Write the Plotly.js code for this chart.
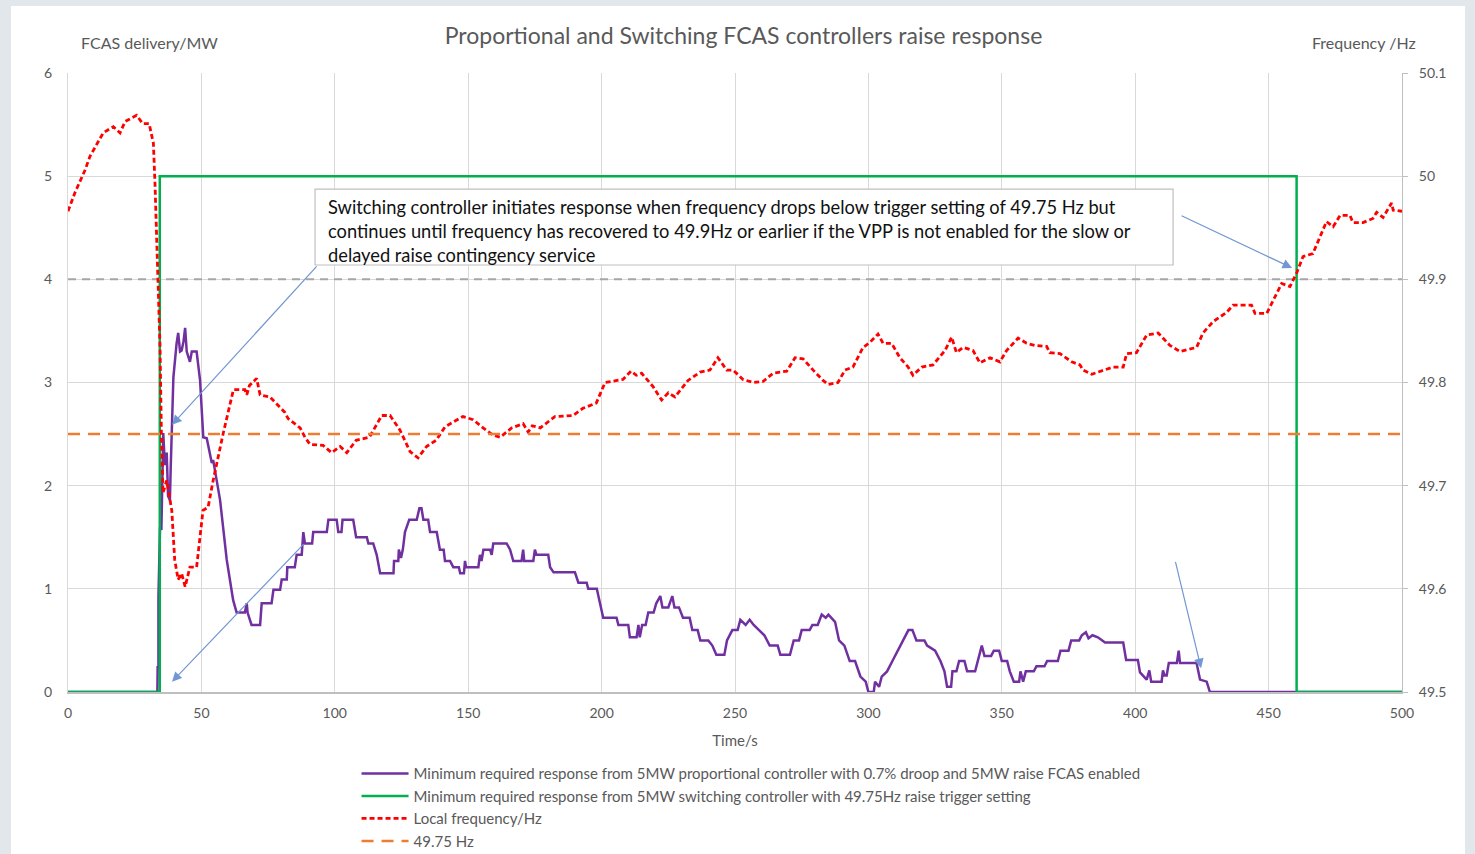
<!DOCTYPE html>
<html><head><meta charset="utf-8">
<script src="https://cdn.plot.ly/plotly-3.0.1.min.js"></script>
<style>
html,body{margin:0;padding:0;background:#e1e7ea;width:1475px;height:854px;overflow:hidden;}
#chart{position:absolute;left:11px;top:6px;width:1454px;height:848px;background:#fff;}
</style></head>
<body><div id="chart"></div>
<script>
// ---- data ----
const freqTime = [0,2.6,6.4,8.2,13.2,17,19.5,21.4,25.7,28,30.4,32,32.6,33.2,33.7,34.5,35,35.6,37,38.9,40,41.3,42.6,43.9,45.7,48.2,50.6,52.5,54.4,55.7,58.2,62,66.3,67,68,70.7,72,75.7,81.3,82.5,87,88.8,90.7,95.6,98.8,102,104.5,108,113,117.6,120.7,124.4,128.2,131.2,134.4,138,141.3,148,151.8,155.6,159.3,162,166.3,170.6,172.5,174,177,182.5,189.3,193,198,201.3,208,211,213,215,219.3,222.5,225,227.5,232.4,236.9,240.6,243.6,246.9,249.3,253,256.8,260.5,264.3,269.4,272.5,275.5,279.3,283,284.9,288.6,291.2,294.2,298,300.6,303.6,305.5,308.7,311.8,314.9,316.7,320,324.2,328.7,331.2,333,335.5,339.2,341.8,345.6,349.3,351.8,356.1,359.3,362.4,366.8,368,371.8,376.2,379.3,380.5,383.7,386.8,391.7,395.5,396.8,400.5,404.3,408.6,413,416.8,423,425.4,429.2,434.3,436.7,443.6,444.9,449.3,451.7,454.9,458,460.5,462.9,466.6,469.9,471.7,474.2,476.8,480.5,481.6,485.4,489.1,490.5,492.9,496.1,496.7,500];
const freqHz = [49.966,49.984,50.006,50.019,50.042,50.048,50.042,50.053,50.059,50.051,50.051,50.032,49.993,49.945,49.89,49.834,49.751,49.693,49.705,49.676,49.628,49.609,49.615,49.602,49.621,49.621,49.676,49.679,49.705,49.722,49.751,49.793,49.793,49.788,49.797,49.804,49.788,49.786,49.771,49.765,49.756,49.747,49.740,49.739,49.732,49.738,49.732,49.744,49.747,49.768,49.768,49.754,49.733,49.727,49.738,49.744,49.757,49.767,49.764,49.756,49.749,49.747,49.756,49.760,49.752,49.758,49.756,49.767,49.768,49.775,49.780,49.800,49.803,49.811,49.807,49.809,49.796,49.783,49.790,49.786,49.802,49.810,49.812,49.824,49.812,49.812,49.803,49.800,49.801,49.809,49.811,49.824,49.823,49.812,49.802,49.798,49.800,49.812,49.815,49.834,49.839,49.847,49.838,49.838,49.824,49.815,49.807,49.815,49.817,49.831,49.844,49.829,49.834,49.831,49.819,49.824,49.820,49.831,49.843,49.838,49.836,49.835,49.829,49.828,49.820,49.817,49.812,49.808,49.811,49.815,49.815,49.828,49.829,49.846,49.848,49.836,49.830,49.834,49.848,49.859,49.868,49.875,49.875,49.867,49.867,49.880,49.896,49.893,49.906,49.922,49.925,49.945,49.956,49.951,49.962,49.962,49.955,49.955,49.959,49.965,49.960,49.974,49.967,49.966];

const propTime = [0,33.5,33.6,33.9,33.9,34.5,35,35.7,36.3,37,37.5,38.2,38.5,39.5,40.7,41.3,42,42.6,43.3,43.9,44.5,45.7,46.4,48.2,49.5,50.7,52,53.9,54.4,57,59.5,61.9,63.2,66.3,67,67.3,68.8,72,72.6,76.3,77,79.5,80.1,82,82.2,85,85.7,87.6,88.2,88.8,91.5,91.9,97,97.6,100.7,101.3,102.5,102.9,106.9,108,112,112.6,114.4,115,115.7,117,122,122.2,123.8,124,124.8,125.5,126.3,127.9,130.7,131.7,132.5,133.2,135,135.7,138.2,139.4,140.8,141.3,143.2,144.4,146.5,147,148.4,148.8,149.2,153.8,154.4,155,155.7,158.2,158.8,159.4,164.4,165.7,166.9,170,170.6,171,174.4,175,175.6,180,180.7,182,190,191.3,194.4,195,198.2,199.4,200.6,205.6,206.3,210,210.6,213.1,213.8,214.3,215.2,216.5,217.5,219.5,220.5,222,222.8,225,226.5,227.3,229,230.5,233,234,236,237,240,241.5,243,246,247,249,251,252,254,255.5,257,259,261,263,266,267,270.6,272,274,275,278,279,281,282.5,284,285,287.5,289,291,293,295,297,299,300,302,302.5,304,305,307,309,311,313,315,316.5,318,321,322,325,327,328.5,329.5,331,331.5,333,334,336,337,340,341,342.5,343.5,346,347,349,350,352,353,354.5,356.5,357,358,359,362,363,366,367,371,372,375,376,379,380,381.5,382.5,384,386,388.7,395.5,396.6,401,401.8,404.3,405.3,406,409.9,410.4,411,411.8,412.6,415.6,416.3,416.8,423,424.3,426.8,428,500];
const propMW = [0,0,0.24,0.24,0.92,1.6,1.57,2.51,2.2,2.32,1.9,1.86,2.18,3.05,3.38,3.48,3.3,3.31,3.4,3.53,3.3,3.2,3.3,3.3,3.02,2.47,2.46,2.22,2.25,1.86,1.28,0.89,0.77,0.77,0.86,0.77,0.65,0.65,0.86,0.86,0.99,0.99,1.09,1.09,1.21,1.21,1.33,1.33,1.55,1.44,1.44,1.55,1.55,1.67,1.67,1.55,1.55,1.67,1.67,1.50,1.50,1.44,1.44,1.38,1.33,1.15,1.15,1.27,1.27,1.38,1.30,1.38,1.55,1.67,1.67,1.78,1.78,1.67,1.67,1.55,1.55,1.38,1.38,1.27,1.27,1.21,1.21,1.15,1.15,1.27,1.21,1.21,1.33,1.27,1.38,1.38,1.33,1.44,1.44,1.38,1.27,1.27,1.38,1.27,1.27,1.38,1.33,1.33,1.21,1.16,1.16,1.06,1.06,1.0,1.0,0.86,0.72,0.72,0.65,0.65,0.53,0.53,0.65,0.53,0.65,0.65,0.77,0.77,0.86,0.93,0.82,0.82,0.93,0.82,0.82,0.72,0.72,0.6,0.6,0.5,0.5,0.45,0.36,0.36,0.5,0.6,0.6,0.7,0.65,0.7,0.65,0.6,0.55,0.45,0.45,0.36,0.36,0.5,0.5,0.6,0.6,0.65,0.65,0.75,0.72,0.75,0.68,0.5,0.45,0.3,0.3,0.15,0.1,0.0,0.0,0.1,0.05,0.15,0.2,0.3,0.4,0.5,0.6,0.6,0.5,0.5,0.45,0.4,0.3,0.2,0.05,0.05,0.2,0.2,0.3,0.3,0.2,0.2,0.3,0.45,0.35,0.35,0.4,0.4,0.3,0.3,0.2,0.1,0.1,0.2,0.1,0.2,0.2,0.25,0.25,0.3,0.3,0.4,0.4,0.5,0.5,0.55,0.58,0.52,0.55,0.53,0.48,0.48,0.31,0.31,0.19,0.12,0.21,0.1,0.1,0.21,0.16,0.16,0.28,0.28,0.4,0.28,0.28,0.12,0.1,0.0,0];

const switchTime = [0,34.4,34.4,460.5,460.5,500];
const switchMW = [0,0,5,5,0,0];

const lineTime = [0,500];
const triggerHz = [49.75,49.75];
const recoveryHz = [49.9,49.9];

const seriesNames = [
  "Minimum required response from 5MW proportional controller with 0.7% droop and 5MW raise FCAS enabled",
  "Minimum required response from 5MW switching controller with 49.75Hz raise trigger setting",
  "Local frequency/Hz",
  "49.75 Hz"
];
const chartTitle = "Proportional and Switching FCAS controllers raise response";
const noteText = "Switching controller initiates response when frequency drops below trigger setting of 49.75 Hz but<br>continues until frequency has recovered to 49.9Hz or earlier if the VPP is not enabled for the slow or<br>delayed raise contingency service";

const FONT = "Lato, 'Open Sans', sans-serif";
const GREY = "#595959";

const traces = [
  {x: lineTime, y: recoveryHz, yaxis: 'y2', mode: 'lines', showlegend: false, hoverinfo: 'skip',
   line: {color: '#a6a6a6', width: 2, dash: '8px,6px'}},
  {x: propTime, y: propMW, mode: 'lines', name: seriesNames[0],
   line: {color: '#7030a0', width: 2.5}},
  {x: switchTime, y: switchMW, mode: 'lines', name: seriesNames[1],
   line: {color: '#00b050', width: 2.5}},
  {x: freqTime, y: freqHz, yaxis: 'y2', mode: 'lines', name: seriesNames[2],
   line: {color: '#ff0000', width: 2.8, dash: '5px,3px'}},
  {x: lineTime, y: triggerHz, yaxis: 'y2', mode: 'lines', name: seriesNames[3],
   line: {color: '#ed7d31', width: 2.5, dash: '12px,8px'}}
];

const arrowColor = '#7397d2';
const layout = {
  width: 1454, height: 848,
  margin: {l: 57, r: 63, t: 67, b: 162, autoexpand: false},
  paper_bgcolor: '#ffffff', plot_bgcolor: '#ffffff',
  font: {family: FONT, color: GREY, size: 14},
  title: {text: chartTitle, font: {family: FONT, size: 23, color: GREY}, x: 0.5038, xanchor: 'center',
          yref: 'container', y: 1 - 30/848, yanchor: 'middle'},
  xaxis: {range: [0, 500], dtick: 50, tick0: 0, showgrid: true, gridcolor: '#d9d9d9', gridwidth: 1,
          showline: true, linecolor: '#bfbfbf', linewidth: 1.5, zeroline: false, ticks: '', automargin: false,
          tickfont: {size: 14, color: GREY}, ticklabelstandoff: 8,
          title: {text: 'Time/s', font: {size: 15, color: GREY}, standoff: 15}},
  yaxis: {range: [0, 6], dtick: 1, showgrid: true, gridcolor: '#d9d9d9', gridwidth: 1, automargin: false,
          showline: true, linecolor: '#d9d9d9', zeroline: false, ticks: '', ticklabelstandoff: 12,
          tickfont: {size: 14, color: GREY}},
  yaxis2: {range: [49.5, 50.1], dtick: 0.1, tick0: 49.5, overlaying: 'y', side: 'right', showgrid: false,
           showline: true, linecolor: '#bfbfbf', zeroline: false, ticks: 'outside', ticklen: 5, tickcolor: '#bfbfbf',
           automargin: false, ticklabelstandoff: 8, tickfont: {size: 14, color: GREY}},
  legend: {x: 0.2163, y: -0.1053, xanchor: 'left', yanchor: 'top', orientation: 'v',
           font: {size: 15, color: GREY}, bgcolor: 'rgba(0,0,0,0)', itemwidth: 47, tracegroupgap: 0},
  shapes: [
    {type: 'rect', xref: 'x', yref: 'y', x0: 92.6, x1: 414.2, y0: 4.139, y1: 4.875,
     fillcolor: '#ffffff', line: {color: '#bfbfbf', width: 1.2}, layer: 'above'}
  ],
  annotations: [
    {xref: 'paper', yref: 'paper', x: 0.008, y: 1.03, xanchor: 'left', yanchor: 'bottom', showarrow: false,
     text: 'FCAS delivery/MW', font: {size: 16, color: GREY}},
    {xref: 'paper', yref: 'paper', x: 1.012, y: 1.03, xanchor: 'right', yanchor: 'bottom', showarrow: false,
     text: 'Frequency /Hz', font: {size: 16, color: GREY}},
    {xref: 'x', yref: 'y', x: 96.7, y: 4.468, xanchor: 'left', yanchor: 'middle', showarrow: false,
     text: noteText, align: 'left', font: {size: 18.3, color: '#111111'}},
    {xref: 'x', yref: 'y', x: 39.0, y: 2.59, ax: 146, ay: -160, text: '', showarrow: true,
     arrowhead: 2, arrowsize: 1.6, arrowwidth: 1.2, arrowcolor: arrowColor},
    {xref: 'x', yref: 'y', x: 39.0, y: 0.10, ax: 133, ay: -139, text: '', showarrow: true,
     arrowhead: 2, arrowsize: 1.6, arrowwidth: 1.2, arrowcolor: arrowColor},
    {xref: 'x', yref: 'y', x: 458.8, y: 4.11, ax: -112, ay: -53, text: '', showarrow: true,
     arrowhead: 2, arrowsize: 1.6, arrowwidth: 1.2, arrowcolor: arrowColor},
    {xref: 'x', yref: 'y', x: 424.7, y: 0.23, ax: -26, ay: -108, text: '', showarrow: true,
     arrowhead: 2, arrowsize: 1.6, arrowwidth: 1.2, arrowcolor: arrowColor}
  ]
};

Plotly.newPlot('chart', traces, layout, {displayModeBar: false, staticPlot: true});
</script>
</body></html>
